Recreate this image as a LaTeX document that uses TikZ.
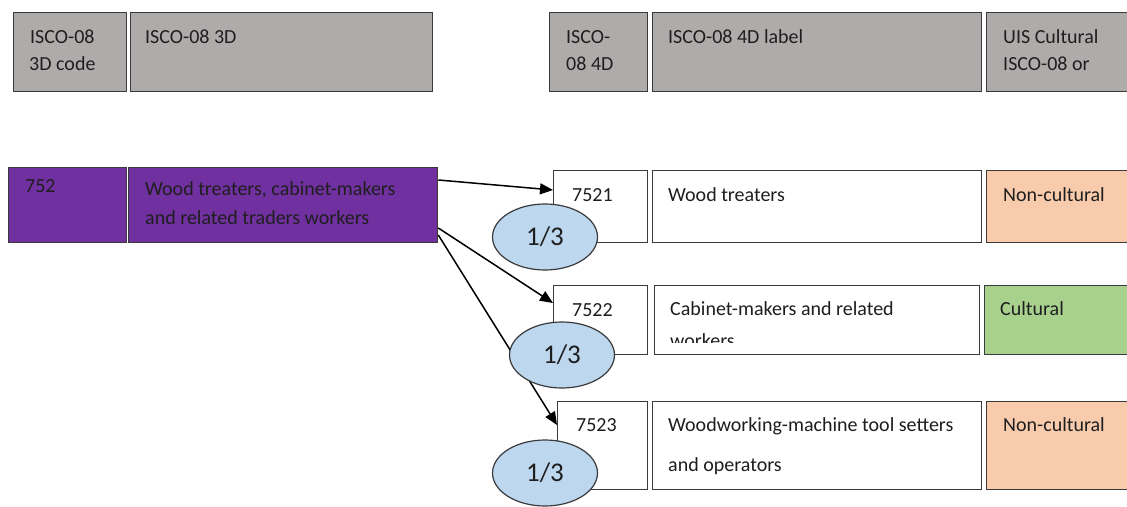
\documentclass[tikz,border=0pt]{standalone}
\usepackage{fontspec}
\setmainfont{Carlito}
\usetikzlibrary{shapes.geometric,arrows.meta}
\definecolor{hdrgray}{HTML}{AFABAB}
\definecolor{woodpurple}{HTML}{7030A0}
\definecolor{noncult}{HTML}{F8CBAD}
\definecolor{cult}{HTML}{A9D18E}
\definecolor{sharebl}{HTML}{BDD7EE}
\definecolor{edge}{HTML}{3A3A3A}
\definecolor{ink}{HTML}{1E1E1E}
\tikzset{
  cell/.style={draw=edge, line width=1.3pt, rectangle, inner sep=0pt, anchor=north west},
  hdr/.style={cell, fill=hdrgray},
  txt/.style={anchor=base west, inner sep=0pt, text=ink, font=\fontsize{20}{24}\selectfont},
  share/.style={ellipse, draw=edge, line width=1.2pt, fill=sharebl, minimum width=105pt,
    minimum height=66pt, inner sep=0pt, text=ink, font=\fontsize{27}{30}\selectfont},
  link/.style={-{Triangle[length=13pt,width=11pt]}, line width=1.5pt, black}
}
\begin{document}
\begin{tikzpicture}[x=1pt,y=-1pt]
\useasboundingbox (0,0) rectangle (1127,506);

% header row
\node[hdr, minimum width=113pt, minimum height=79pt] (h1) at (13,12) {};
\node[hdr, minimum width=302pt, minimum height=79pt] (h2) at (130,12) {};
\node[hdr, minimum width=98pt, minimum height=79pt] (h3) at (549,12) {};
\node[hdr, minimum width=329pt, minimum height=79pt] (h4) at (652,12) {};
\node[hdr, minimum width=150pt, minimum height=79pt] (h5) at (986,12) {};
\node[txt] (h1a) at (30,43) {ISCO-08};
\node[txt] (h1b) at (29,70) {3D code};
\node[txt] (h2a) at (145,43) {ISCO-08 3D};
\node[txt] (h3a) at (566,43) {ISCO-};
\node[txt] (h3b) at (566,70) {08 4D};
\node[txt] (h4a) at (668,43) {ISCO-08 4D label};
\node[txt] (h5a) at (1003,43) {UIS Cultural};
\node[txt] (h5b) at (1003,70) {ISCO-08 or};

% 3-digit group
\node[cell, fill=woodpurple, minimum width=118pt, minimum height=75pt] (g1) at (8,167) {};
\node[cell, fill=woodpurple, minimum width=309pt, minimum height=75pt] (g2) at (128,167) {};
\node[txt] (g1a) at (25,192) {752};
\node[txt] (g2a) at (145,195) {Wood treaters, cabinet-makers};
\node[txt] (g2b) at (145,224) {and related traders workers};

% 4-digit unit 7521
\node[cell, fill=white, minimum width=94pt, minimum height=72pt] (c1) at (553,170) {};
\node[cell, fill=white, minimum width=329pt, minimum height=72pt] (l1) at (652,170) {};
\node[cell, fill=noncult, minimum width=150pt, minimum height=72pt] (k1) at (986,170) {};
\node[txt] (c1a) at (572,201) {7521};
\node[txt] (l1a) at (668,201) {Wood treaters};
\node[txt] (k1a) at (1003,201) {Non-cultural};

% 4-digit unit 7522 (second label line runs out of its cell)
\node[cell, fill=white, minimum width=94pt, minimum height=69pt] (c2) at (553,285) {};
\node[cell, fill=white, minimum width=325pt, minimum height=69pt] (l2) at (654,285) {};
\node[cell, fill=cult, minimum width=150pt, minimum height=69pt] (k2) at (984,285) {};
\node[txt] (c2a) at (572,316) {7522};
\node[txt] (l2a) at (670,315) {Cabinet-makers and related};
\begin{scope}
  \clip (655,320) rectangle (978,342);
  \node[txt] (l2b) at (670,347) {workers};
\end{scope}
\node[txt] (k2a) at (1000,315) {Cultural};

% 4-digit unit 7523
\node[cell, fill=white, minimum width=90pt, minimum height=88pt] (c3) at (557,401) {};
\node[cell, fill=white, minimum width=329pt, minimum height=88pt] (l3) at (652,401) {};
\node[cell, fill=noncult, minimum width=150pt, minimum height=88pt] (k3) at (986,401) {};
\node[txt] (c3a) at (576,431) {7523};
\node[txt] (l3a) at (668,431) {Woodworking-machine tool setters};
\node[txt] (l3b) at (668,471) {and operators};
\node[txt] (k3a) at (1003,431) {Non-cultural};

% links from the group to its units
\coordinate (o1) at ([yshift=-13pt]g2.north east);
\coordinate (o2) at ([yshift=-61pt]g2.north east);
\coordinate (o3) at ([yshift=-68pt]g2.north east);
\draw[link] (o1) -- ([yshift=-20pt]c1.north west);
\draw[link] (o2) -- ([yshift=-18pt]c2.north west);
\draw[link] (o3) -- ([yshift=-24pt]c3.north west);

% shares
\node[share] (s1) at (545,237) {1/3};
\node[share] (s2) at (562,355) {1/3};
\node[share] (s3) at (545,473) {1/3};
\end{tikzpicture}
\end{document}
